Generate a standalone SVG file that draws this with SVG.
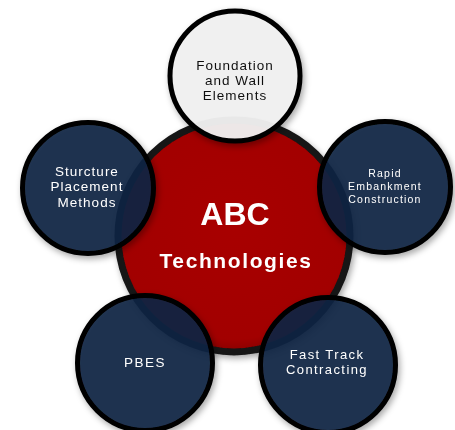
<svg xmlns="http://www.w3.org/2000/svg" width="455" height="430" viewBox="0 0 455 430">
<defs>
<filter id="sh" x="-20%" y="-20%" width="150%" height="150%">
<feDropShadow dx="2" dy="3" stdDeviation="3" flood-color="#000" flood-opacity="0.35"/>
</filter>
<radialGradient id="redg" cx="0.5" cy="0.45" r="0.55">
<stop offset="0" stop-color="#a80000"/>
<stop offset="0.9" stop-color="#a20000"/>
<stop offset="1" stop-color="#8a0000"/>
</radialGradient>
</defs>
<style>
.hub{fill:url(#redg);stroke:#151515;stroke-width:7}
.dark{fill:#112542;fill-opacity:0.9;stroke:#000;stroke-width:5}
.light{fill:#f1f1f1;fill-opacity:0.95;stroke:#000;stroke-width:5}
.t{font-family:"Liberation Sans",Arial,sans-serif;text-anchor:middle}
.w{fill:#fff}
.k{fill:#111}
.n{font-size:13.5px;letter-spacing:1px}
.s{font-size:10.5px;letter-spacing:1.2px}
.big{font-weight:bold;fill:#fff}
</style>
<rect width="455" height="430" fill="#fff"/>
<g id="hub" filter="url(#sh)">
<circle class="hub" cx="234" cy="236" r="116"/>
<text class="t big" x="235" y="225" font-size="32">ABC</text>
<text class="t big" x="236" y="268" font-size="21" letter-spacing="1.6">Technologies</text>
</g>
<g id="node-foundation" filter="url(#sh)">
<circle class="light" cx="235" cy="76" r="65"/>
<text class="t k n" x="235" y="70">Foundation</text>
<text class="t k n" x="235" y="85">and Wall</text>
<text class="t k n" x="235" y="100">Elements</text>
</g>
<g id="node-structure" filter="url(#sh)">
<circle class="dark" cx="88" cy="188" r="65.5"/>
<text class="t w n" x="87" y="176">Sturcture</text>
<text class="t w n" x="87" y="191">Placement</text>
<text class="t w n" x="87" y="207">Methods</text>
</g>
<g id="node-rapid" filter="url(#sh)">
<circle class="dark" cx="385" cy="187" r="65.5"/>
<text class="t w s" x="385" y="177">Rapid</text>
<text class="t w s" x="385" y="190">Embankment</text>
<text class="t w s" x="385" y="203">Construction</text>
</g>
<g id="node-pbes" filter="url(#sh)">
<circle class="dark" cx="145" cy="363" r="67.5"/>
<text class="t w" x="145" y="367" font-size="13.5" letter-spacing="1.5">PBES</text>
</g>
<g id="node-fasttrack" filter="url(#sh)">
<circle class="dark" cx="328" cy="365" r="67.5"/>
<text class="t w" x="327" y="359" font-size="13" letter-spacing="1.4">Fast Track</text>
<text class="t w" x="327" y="374" font-size="13" letter-spacing="1.4">Contracting</text>
</g>
</svg>
